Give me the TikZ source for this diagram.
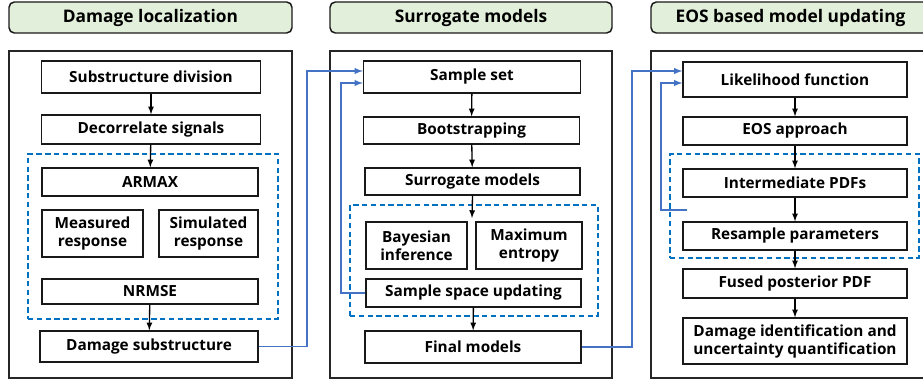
\documentclass[tikz,border=0pt]{standalone}
\usepackage{fontspec}
\setmainfont{Open Sans}
\usetikzlibrary{positioning,fit,calc}
\tikzset{>=latex}

\definecolor{headgreen}{RGB}{226,239,218}
\definecolor{linkblue}{RGB}{68,114,196}
\definecolor{groupblue}{RGB}{0,112,192}

\tikzset{
	head/.style={draw=black!90, line width=1.1pt, fill=headgreen, rounded corners=4pt, inner sep=0pt, font=\fontsize{13}{15}\selectfont\bfseries},
	panel/.style={draw=black!85, line width=0.9pt, inner sep=0pt},
	proc/.style={draw=black!90, line width=1pt, inner sep=0pt, align=center, font=\fontsize{11.5}{13.5}\selectfont\bfseries},
	group/.style={draw=groupblue, line width=1.1pt, dash pattern=on 4pt off 2.6pt, inner sep=0pt},
	flow/.style={->, line width=1pt},
	link/.style={->, draw=linkblue, line width=1.1pt}
}

\begin{document}
\begin{tikzpicture}[x=0.75pt, y=-0.75pt]

	\useasboundingbox (0,0) rectangle (923,385);

	% column headers
	\node (head1) [head, minimum width=283*0.75pt, minimum height=31*0.75pt] at (150.5,17.5) {Damage localization};
	\node (head2) [head, minimum width=282*0.75pt, minimum height=31*0.75pt] at (471,17.5) {Surrogate models};
	\node (head3) [head, minimum width=279*0.75pt, minimum height=31*0.75pt] at (790.5,17.5) {EOS based model updating};

	% outer panels
	\node (panel1-box) [panel, minimum width=283*0.75pt, minimum height=327*0.75pt] at (150.5,214.5) {};
	\node (panel2-box) [panel, minimum width=282*0.75pt, minimum height=327*0.75pt] at (471,214.5) {};
	\node (panel3-box) [panel, minimum width=279*0.75pt, minimum height=327*0.75pt] at (790.5,214.5) {};

	% damage localization
	\node (subdiv) [proc, minimum width=219*0.75pt, minimum height=32*0.75pt] at (151,77) {Substructure division};
	\node (decor) [proc, minimum width=219*0.75pt, minimum height=29*0.75pt] at (151,129.5) {Decorrelate signals};
	\node (armax) [proc, minimum width=216*0.75pt, minimum height=28*0.75pt] at (150,182) {ARMAX};
	\node (measured) [proc, minimum width=101*0.75pt, minimum height=47*0.75pt] at (92.5,233.5) {Measured\\response};
	\node (simulated) [proc, minimum width=99*0.75pt, minimum height=47*0.75pt] at (208.5,233.5) {Simulated\\response};
	\node (nrmse) [proc, minimum width=216*0.75pt, minimum height=25*0.75pt] at (150,291.5) {NRMSE};
	\node (dmgsub) [proc, minimum width=218*0.75pt, minimum height=31*0.75pt] at (149,346.5) {Damage substructure};
	\node (armax-group) [group, minimum width=250*0.75pt, minimum height=165*0.75pt] at (153,236.5) {};

	\draw[flow] (subdiv) to (decor);
	\draw[flow] (decor) to (armax);
	\draw[flow] (nrmse) to (dmgsub);

	% surrogate models
	\node (sampleset) [proc, minimum width=217*0.75pt, minimum height=32*0.75pt] at (472,77) {Sample set};
	\node (bootstrap) [proc, minimum width=216*0.75pt, minimum height=27*0.75pt] at (471.5,130.5) {Bootstrapping};
	\node (surrogate) [proc, minimum width=215*0.75pt, minimum height=27*0.75pt] at (472.5,181.5) {Surrogate models};
	\node (bayes) [proc, minimum width=101*0.75pt, minimum height=47*0.75pt] at (416.5,245.5) {Bayesian\\inference};
	\node (maxent) [proc, minimum width=106*0.75pt, minimum height=47*0.75pt] at (529,245.5) {Maximum\\entropy};
	\node (ssupdate) [proc, minimum width=215*0.75pt, minimum height=28*0.75pt] at (473.5,293) {Sample space updating};
	\node (final) [proc, minimum width=216*0.75pt, minimum height=32*0.75pt] at (473,347) {Final models};
	\node (surrogate-group) [group, minimum width=248*0.75pt, minimum height=111*0.75pt] at (474,260.5) {};
	\coordinate (surrogate-gap) at (472,218);

	\draw[flow] (sampleset) to (bootstrap);
	\draw[flow] (bootstrap) to (surrogate);
	\draw[flow] (surrogate.south) to (surrogate-gap);
	\draw[flow] (ssupdate) to (final);

	% EOS based model updating
	\node (likelihood) [proc, minimum width=224*0.75pt, minimum height=35*0.75pt] at (795,79.5) {Likelihood function};
	\node (eos) [proc, minimum width=224*0.75pt, minimum height=28*0.75pt] at (795,131) {EOS approach};
	\node (interm) [proc, minimum width=224*0.75pt, minimum height=28*0.75pt] at (795,183) {Intermediate PDFs};
	\node (resample) [proc, minimum width=224*0.75pt, minimum height=28*0.75pt] at (795,236) {Resample parameters};
	\node (fused) [proc, minimum width=224*0.75pt, minimum height=29*0.75pt] at (795,283.5) {Fused posterior PDF};
	\node (dmgid) [proc, minimum width=224*0.75pt, minimum height=46*0.75pt] at (795,341) {Damage identification and\\uncertainty quantification};
	\node (eos-group) [group, minimum width=249*0.75pt, minimum height=104*0.75pt] at (794.5,206) {};

	\draw[flow] (likelihood) to (eos);
	\draw[flow] (eos) to (interm);
	\draw[flow] (interm) to (resample);
	\draw[flow] (resample) to (fused);
	\draw[flow] (fused) to (dmgid);

	% links between columns and update loops
	\coordinate (bus1) at (307,71);
	\coordinate (loop1) at (341,83);
	\coordinate (bus2) at (632,71);
	\coordinate (loop2) at (661,83);
	\coordinate (loop2-start) at (687,210);

	\draw[link] (dmgsub.east) -| (bus1) -- (bus1 -| sampleset.west);
	\draw[link] (ssupdate.west) -| (loop1) -- (loop1 -| sampleset.west);
	\draw[link] (final.east) -| (bus2) -- (bus2 -| likelihood.west);
	\draw[link] (loop2-start) -| (loop2) -- (loop2 -| likelihood.west);

\end{tikzpicture}
\end{document}
